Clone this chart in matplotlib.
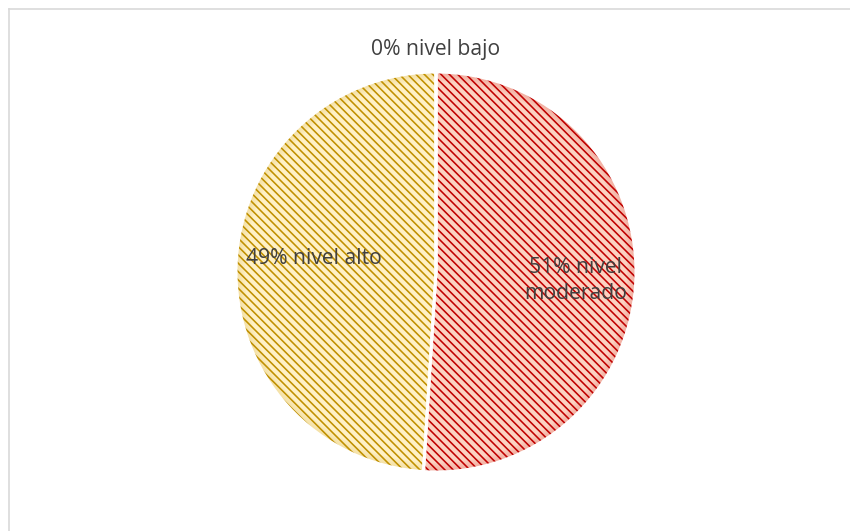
import numpy as np
import matplotlib.pyplot as plt
from matplotlib.lines import Line2D

# Distribución por nivel
categorias = ['nivel bajo', 'nivel moderado', 'nivel alto']
porcentajes = [0, 51, 49]
rellenos = ['#f4b183', '#fcd2c2', '#fff1c6']
tramas = ['#c55a11', '#c00000', '#c09000']

plt.rcParams['font.family'] = ['Open Sans', 'DejaVu Sans']
plt.rcParams['hatch.linewidth'] = 1.15

fig = plt.figure(figsize=(8.5, 5.31), dpi=100)
fig.patch.set_facecolor('white')

# marco gris del área del gráfico
fig.add_artist(Line2D([8.5 / 850, 1], [1 - 8.5 / 531] * 2, color='#d9d9d9', lw=1.2))
fig.add_artist(Line2D([8.5 / 850] * 2, [0, 1 - 8.5 / 531], color='#d9d9d9', lw=1.2))

ax = fig.add_axes([236 / 850, 59 / 531, 400 / 850, 400 / 531])

# relleno con trama diagonal
wedges, _ = ax.pie(porcentajes, startangle=90, counterclock=False, radius=1,
                   colors=rellenos, wedgeprops=dict(linewidth=0))
for w, c in zip(wedges, tramas):
    w.set_hatch('\\\\\\\\')
    w.set_edgecolor(c)
    w.set_linewidth(0)

# sombreado suave hacia el borde exterior
n_anillos = 8
for i in range(n_anillos):
    r = 0.955 + 0.045 * (i + 1) / n_anillos
    ax.pie(porcentajes, startangle=90, counterclock=False, radius=r,
           colors=tramas, wedgeprops=dict(width=0.045 / n_anillos, linewidth=0,
                                          alpha=0.04 + 0.16 * i / n_anillos))

# bordes blancos entre sectores
ax.pie(porcentajes, startangle=90, counterclock=False, radius=1,
       colors=['none'] * 3,
       wedgeprops=dict(linewidth=2.2, edgecolor='white', fill=False))

ax.set_xlim(-1, 1)
ax.set_ylim(-1, 1)
ax.set_aspect('equal')
ax.axis('off')

etiquetas = ['0% nivel bajo', '51% nivel\nmoderado', '49% nivel alto']
distancias = [1.11, 0.70, 0.61]
desplaz_y = [0, -0.02, 0.05]
for w, txt, r, dy in zip(wedges, etiquetas, distancias, desplaz_y):
    ang = np.deg2rad((w.theta1 + w.theta2) / 2)
    ax.text(r * np.cos(ang), r * np.sin(ang) + dy, txt, ha='center', va='center',
            fontsize=15.2, color='#404040', linespacing=1.35, clip_on=False)

fig.savefig('out.png', dpi=100, facecolor='white')
